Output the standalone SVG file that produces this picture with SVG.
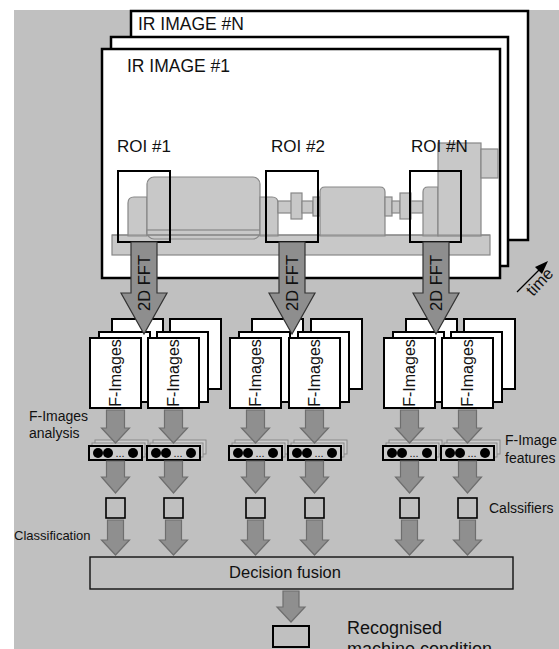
<svg xmlns="http://www.w3.org/2000/svg" width="559" height="649" viewBox="0 0 559 649">
  <defs>
    <style>
      .txt { font-family: "Liberation Sans", Arial, sans-serif; fill: #111; }
      .frame { fill: #fff; stroke: #000; stroke-width: 2.5; }
      .mach { fill: #c8c8c8; stroke: #878787; stroke-width: 1.2; }
      .roi { fill: none; stroke: #000; stroke-width: 2; }
      .fimg { fill: #fff; stroke: #000; stroke-width: 2; }
      .fft { fill: #8e8e8e; stroke: #333; stroke-width: 1.2; }
      .arr { fill: #8f8f8f; stroke: #6e6e6e; stroke-width: 1.2; }
      .vecb { fill: #cccccc; stroke: #8a8a8a; stroke-width: 1; }
      .vec { fill: #cccccc; stroke: #000; stroke-width: 2; }
      .box { fill: none; stroke: #000; stroke-width: 1.6; }
    </style>
    <!-- one feature vector: two stacked copies behind, dots in front -->
    <g id="vector">
      <rect class="vecb" x="6" y="-6" width="53" height="14"/>
      <rect class="vecb" x="3" y="-3" width="53" height="14"/>
      <rect class="vec" x="0" y="0" width="53" height="14"/>
      <circle cx="9" cy="7" r="5" fill="#000"/>
      <circle cx="19" cy="7" r="5" fill="#000"/>
      <text class="txt" x="26.5" y="11" font-size="11">...</text>
      <circle cx="44" cy="7" r="5" fill="#000"/>
    </g>
    <!-- stack of three F-image frames -->
    <g id="fstack">
      <rect class="fimg" x="22" y="-19" width="51" height="70"/>
      <rect class="fimg" x="9" y="-6" width="51" height="70"/>
      <rect class="fimg" x="0" y="0" width="51" height="70"/>
      <text class="txt" font-size="16" text-anchor="middle" transform="translate(31,35) rotate(-90)">F-Images</text>
    </g>
  </defs>

  <!-- backdrop -->
  <rect x="14" y="10" width="545" height="639" fill="#c0c0c0"/>

  <!-- IR image sequence -->
  <g id="ir-image-n">
    <rect class="frame" x="131" y="11" width="397" height="229"/>
    <text class="txt" x="138" y="30" font-size="17.5">IR IMAGE #N</text>
  </g>
  <g id="ir-image-mid">
    <rect class="frame" x="111" y="37" width="397" height="229"/>
  </g>
  <g id="ir-image-1">
    <rect class="frame" x="102" y="49" width="398" height="229"/>
    <text class="txt" x="127" y="72" font-size="17.5">IR IMAGE #1</text>
  </g>

  <!-- machine drawing -->
  <g id="machine">
    <rect class="mach" x="112" y="235" width="378" height="20"/>
    <path class="mach" d="M128,236 V203 Q128,197 134,197 H147 V236 Z"/>
    <rect class="mach" x="147" y="177" width="113" height="62" rx="7"/>
    <rect class="mach" x="147" y="230" width="113" height="5" stroke="none"/>
    <path class="mach" d="M260,236 V197 H272 Q278,197 278,203 V236 Z"/>
    <rect class="mach" x="278" y="201" width="14" height="12"/>
    <rect class="mach" x="291" y="193" width="11" height="26"/>
    <rect class="mach" x="302" y="201" width="11" height="12"/>
    <rect class="mach" x="313" y="197" width="7" height="19"/>
    <path class="mach" d="M320,236 V192 Q320,187 325,187 H380 Q385,187 385,192 V236 Z"/>
    <rect class="mach" x="385" y="197" width="7" height="19"/>
    <rect class="mach" x="392" y="201" width="8" height="12"/>
    <rect class="mach" x="400" y="193" width="11" height="26"/>
    <rect class="mach" x="411" y="201" width="12" height="12"/>
    <path class="mach" d="M423,236 V192 Q423,187 428,187 H438 V236 Z"/>
    <rect class="mach" x="438" y="143" width="43" height="93"/>
    <rect class="mach" x="481" y="149" width="17" height="29"/>
    <line x1="112" y1="235" x2="490" y2="235" stroke="#878787" stroke-width="1.2"/>
  </g>

  <!-- regions of interest -->
  <g id="roi-1">
    <text class="txt" x="117" y="152" font-size="17">ROI #1</text>
    <rect class="roi" x="118" y="171" width="52" height="71"/>
  </g>
  <g id="roi-2">
    <text class="txt" x="271" y="152" font-size="17">ROI #2</text>
    <rect class="roi" x="266" y="171" width="52" height="71"/>
  </g>
  <g id="roi-n">
    <text class="txt" x="411" y="152" font-size="17">ROI #N</text>
    <rect class="roi" x="410" y="171" width="51" height="71"/>
  </g>

  <!-- time axis -->
  <g id="time">
    <line x1="517" y1="292" x2="541" y2="268" stroke="#000" stroke-width="1.3"/>
    <path d="M548,261 L535,267 L542,274 Z" fill="#000"/>
    <text class="txt" font-size="16.5" transform="translate(533,297) rotate(-47)">time</text>
  </g>

  <!-- F-image stacks -->
  <g id="fimages-1a"><use href="#fstack" x="90" y="338"/></g>
  <g id="fimages-1b"><use href="#fstack" x="148" y="338"/></g>
  <g id="fimages-2a"><use href="#fstack" x="230" y="338"/></g>
  <g id="fimages-2b"><use href="#fstack" x="289" y="338"/></g>
  <g id="fimages-na"><use href="#fstack" x="384" y="338"/></g>
  <g id="fimages-nb"><use href="#fstack" x="442" y="338"/></g>

  <!-- feature vectors -->
  <g id="features-1a"><use href="#vector" x="89" y="446"/></g>
  <g id="features-1b"><use href="#vector" x="147" y="446"/></g>
  <g id="features-2a"><use href="#vector" x="229" y="446"/></g>
  <g id="features-2b"><use href="#vector" x="288" y="446"/></g>
  <g id="features-na"><use href="#vector" x="383" y="446"/></g>
  <g id="features-nb"><use href="#vector" x="441" y="446"/></g>

  <!-- classifiers -->
  <g id="classifier-1a"><rect class="box" x="106" y="498" width="19" height="20"/></g>
  <g id="classifier-1b"><rect class="box" x="164" y="498" width="19" height="20"/></g>
  <g id="classifier-2a"><rect class="box" x="246" y="498" width="19" height="20"/></g>
  <g id="classifier-2b"><rect class="box" x="305" y="498" width="19" height="20"/></g>
  <g id="classifier-na"><rect class="box" x="400" y="498" width="19" height="20"/></g>
  <g id="classifier-nb"><rect class="box" x="458" y="498" width="19" height="20"/></g>

  <!-- decision fusion -->
  <g id="decision-fusion">
    <rect x="90" y="557" width="423" height="32" fill="none" stroke="#111" stroke-width="1.4"/>
    <text class="txt" x="285" y="578" font-size="16.5" text-anchor="middle">Decision fusion</text>
  </g>

  <!-- result -->
  <g id="result">
    <rect x="273" y="626" width="36" height="21" fill="none" stroke="#000" stroke-width="2"/>
    <text class="txt" x="347" y="634" font-size="18">Recognised</text>
    <text class="txt" x="347" y="655" font-size="18">machine condition</text>
  </g>

  <!-- connectors -->
  <g id="connectors">
    <!-- 2D FFT block arrows -->
    <path class="fft" d="M131,242 H157 V293 H167 L144,334 L121,293 H131 Z"/>
    <path class="fft" d="M279,242 H305 V293 H315 L292,334 L269,293 H279 Z"/>
    <path class="fft" d="M423,242 H449 V293 H459 L436,334 L413,293 H423 Z"/>
    <text class="txt" font-size="16.5" text-anchor="middle" transform="translate(150,283) rotate(-90)">2D FFT</text>
    <text class="txt" font-size="16.5" text-anchor="middle" transform="translate(298,283) rotate(-90)">2D FFT</text>
    <text class="txt" font-size="16.5" text-anchor="middle" transform="translate(442,283) rotate(-90)">2D FFT</text>

    <!-- F-images to features -->
    <path class="arr" d="M106.5,410 H124.5 V428 H129.5 L115.5,443 L101.5,428 H106.5 Z"/>
    <path class="arr" d="M164.5,410 H182.5 V428 H187.5 L173.5,443 L159.5,428 H164.5 Z"/>
    <path class="arr" d="M246.5,410 H264.5 V428 H269.5 L255.5,443 L241.5,428 H246.5 Z"/>
    <path class="arr" d="M305.5,410 H323.5 V428 H328.5 L314.5,443 L300.5,428 H305.5 Z"/>
    <path class="arr" d="M400.5,410 H418.5 V428 H423.5 L409.5,443 L395.5,428 H400.5 Z"/>
    <path class="arr" d="M458.5,410 H476.5 V428 H481.5 L467.5,443 L453.5,428 H458.5 Z"/>

    <!-- features to classifiers -->
    <path class="arr" d="M106.5,461 H124.5 V477 H129.5 L115.5,493 L101.5,477 H106.5 Z"/>
    <path class="arr" d="M164.5,461 H182.5 V477 H187.5 L173.5,493 L159.5,477 H164.5 Z"/>
    <path class="arr" d="M246.5,461 H264.5 V477 H269.5 L255.5,493 L241.5,477 H246.5 Z"/>
    <path class="arr" d="M305.5,461 H323.5 V477 H328.5 L314.5,493 L300.5,477 H305.5 Z"/>
    <path class="arr" d="M400.5,461 H418.5 V477 H423.5 L409.5,493 L395.5,477 H400.5 Z"/>
    <path class="arr" d="M458.5,461 H476.5 V477 H481.5 L467.5,493 L453.5,477 H458.5 Z"/>

    <!-- classifiers to fusion -->
    <path class="arr" d="M107.5,520 H123.5 V540 H129.5 L115.5,555 L101.5,540 H107.5 Z"/>
    <path class="arr" d="M165.5,520 H181.5 V540 H187.5 L173.5,555 L159.5,540 H165.5 Z"/>
    <path class="arr" d="M247.5,520 H263.5 V540 H269.5 L255.5,555 L241.5,540 H247.5 Z"/>
    <path class="arr" d="M306.5,520 H322.5 V540 H328.5 L314.5,555 L300.5,540 H306.5 Z"/>
    <path class="arr" d="M401.5,520 H417.5 V540 H423.5 L409.5,555 L395.5,540 H401.5 Z"/>
    <path class="arr" d="M459.5,520 H475.5 V540 H481.5 L467.5,555 L453.5,540 H459.5 Z"/>

    <!-- fusion to result -->
    <path class="arr" d="M283,591 H299 V607 H305 L291,622 L277,607 H283 Z"/>
  </g>

  <!-- side labels -->
  <g id="labels">
    <text class="txt" x="29" y="421" font-size="14">F-Images</text>
    <text class="txt" x="29" y="438" font-size="14">analysis</text>
    <text class="txt" x="505" y="445" font-size="14">F-Image</text>
    <text class="txt" x="505" y="463" font-size="14">features</text>
    <text class="txt" x="489" y="513" font-size="14">Calssifiers</text>
    <text class="txt" x="14" y="540" font-size="13">Classification</text>
  </g>
</svg>
